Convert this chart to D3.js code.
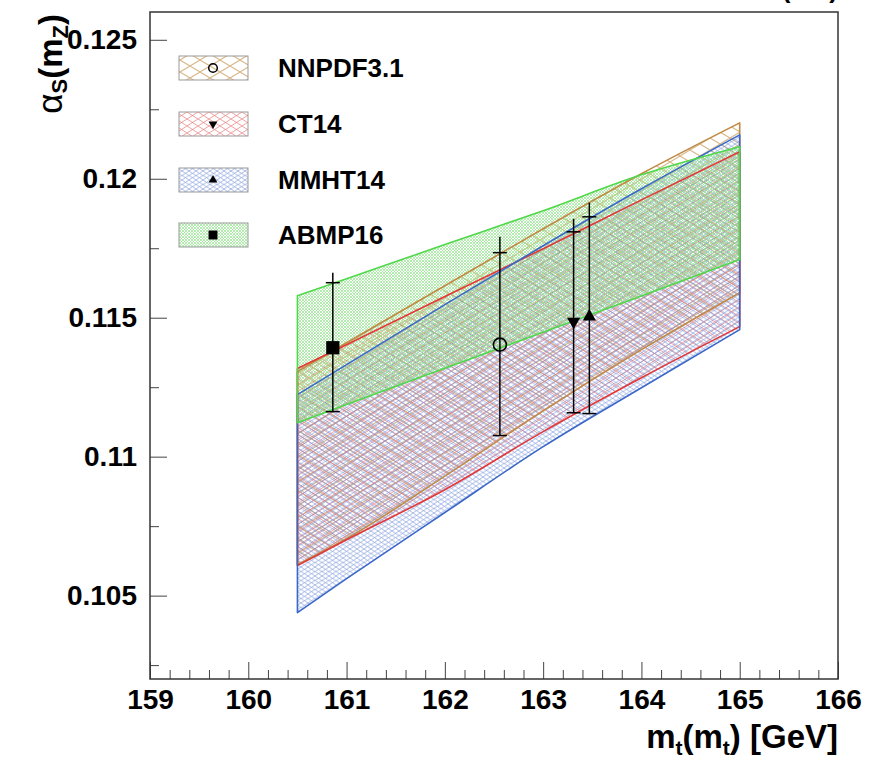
<!DOCTYPE html>
<html>
<head>
<meta charset="utf-8">
<script src="https://cdn.jsdelivr.net/npm/d3@7"></script>
<style>
  body { margin: 0; background: #fff; }
  text { font-family: "Liberation Sans", Arial, sans-serif; font-weight: bold; }
</style>
</head>
<body>
<div id="chart"></div>
<script>
// band grid (top mass) and band edges for each PDF set
const mtGrid = [160.5, 161, 162, 163, 164, 165];
const nnpdfLow  = [0.10612, 0.10705, 0.10930, 0.11165, 0.11385, 0.11590];
const nnpdfHigh = [0.11306, 0.11410, 0.11615, 0.11820, 0.12018, 0.12201];
const ct14Low   = [0.10608, 0.10701, 0.10881, 0.11090, 0.11284, 0.11468];
const ct14High  = [0.11317, 0.11403, 0.11576, 0.11748, 0.11924, 0.12097];
const mmhtLow   = [0.10439, 0.10561, 0.10799, 0.11036, 0.11248, 0.11457];
const mmhtHigh  = [0.11223, 0.11331, 0.11547, 0.11759, 0.11964, 0.12158];
const abmpLow   = [0.11122, 0.11188, 0.11318, 0.11448, 0.11578, 0.11709];
const abmpHigh  = [0.11579, 0.11640, 0.11763, 0.11885, 0.12014, 0.12115];

// extracted points
const pdfNames = ["NNPDF3.1", "CT14", "MMHT14", "ABMP16"];
const pointMt  = [162.56, 163.31, 163.47, 160.86];
const pointAs  = [0.11403, 0.11486, 0.11504, 0.11392];
const errDown  = [0.11076, 0.11158, 0.11155, 0.11162];
const errUp    = [0.11734, 0.11809, 0.11863, 0.11626];
const errTotUp = [0.11791, 0.11856, 0.11914, 0.11662];

const xMajor = [159, 160, 161, 162, 163, 164, 165, 166];
const yMajor = [0.105, 0.11, 0.115, 0.12, 0.125];

const width = 888, height = 765;
const svg = d3.select("#chart").append("svg")
  .attr("width", width).attr("height", height);

const x = d3.scaleLinear().domain([159, 166]).range([150, 838]);
const y = d3.scaleLinear().domain([0.102, 0.126]).range([679, 12]);

// hatch patterns
const styles = [
  {id: "hNNPDF", w: 20, h: 12, hatch: "#d9b98c", line: "#c08a45", sw: 1.1},
  {id: "hCT14",  w: 11, h: 7,  hatch: "#ea7f7f", line: "#e23838", sw: 0.75},
  {id: "hMMHT",  w: 7,  h: 4.5, hatch: "#7694da", line: "#3b68c8", sw: 0.65},
  {id: "hABMP",  w: 3,  h: 3,  hatch: "#92e48c", line: "#4fd84a", sw: 0.7}
];
const defs = svg.append("defs");
styles.forEach(s => {
  const p = defs.append("pattern").attr("id", s.id)
    .attr("patternUnits", "userSpaceOnUse")
    .attr("width", s.w).attr("height", s.h);
  p.append("path")
    .attr("d", `M0,0L${s.w},${s.h}M0,${s.h}L${s.w},0`)
    .attr("stroke", s.hatch).attr("stroke-width", s.sw).attr("fill", "none");
});

const bands = [
  [nnpdfLow, nnpdfHigh],
  [ct14Low, ct14High],
  [mmhtLow, mmhtHigh],
  [abmpLow, abmpHigh]
];

const area = (lo, hi) => d3.area()
  .x((m) => x(m))
  .y0((m, i) => y(lo[i]))
  .y1((m, i) => y(hi[i]))
  .curve(d3.curveMonotoneX)(mtGrid);

const g = svg.append("g");
bands.forEach((b, i) => {
  g.append("path").attr("d", area(b[0], b[1]))
    .attr("fill", `url(#${styles[i].id})`).attr("stroke", "none");
});
bands.forEach((b, i) => {
  g.append("path").attr("d", area(b[0], b[1]))
    .attr("fill", "none").attr("stroke", styles[i].line)
    .attr("stroke-width", 1.6).attr("stroke-linejoin", "round");
});

// markers
const markerFor = (i, big) => {
  if (i === 0) return null;
  const type = i === 3 ? d3.symbolSquare : d3.symbolTriangle;
  const size = i === 3 ? (big ? 175 : 80) : (big ? 75 : 34);
  return d3.symbol().type(type).size(size)();
};

const pts = svg.append("g");
pdfNames.forEach((n, i) => {
  const cx = x(pointMt[i]);
  pts.append("line").attr("x1", cx).attr("x2", cx)
    .attr("y1", y(errTotUp[i])).attr("y2", y(errDown[i]))
    .attr("stroke", "#000").attr("stroke-width", 1.5);
  [errUp[i], errDown[i]].forEach(v => {
    pts.append("line").attr("x1", cx - 7).attr("x2", cx + 7)
      .attr("y1", y(v)).attr("y2", y(v))
      .attr("stroke", "#000").attr("stroke-width", 1.5);
  });
  if (i === 0) {
    pts.append("circle").attr("cx", cx).attr("cy", y(pointAs[i])).attr("r", 6.5)
      .attr("fill", "none").attr("stroke", "#000").attr("stroke-width", 1.6);
  } else {
    pts.append("path").attr("d", markerFor(i, true))
      .attr("transform", `translate(${cx},${y(pointAs[i])})` + (i === 1 ? " rotate(180)" : ""))
      .attr("fill", "#000");
  }
});

// axes
const tickFont = s => s.selectAll("text").attr("font-size", 28).attr("fill", "#000")
  .style("font-family", "'Liberation Sans', Arial, sans-serif").style("font-weight", "bold");

const xAxis = svg.append("g").attr("transform", "translate(0,679)")
  .call(d3.axisBottom(x).tickValues(xMajor).tickSizeInner(-17).tickSizeOuter(0)
    .tickPadding(10).tickFormat(d3.format("d")));
xAxis.select(".domain").remove();
tickFont(xAxis);
xAxis.selectAll("line").attr("stroke", "#444");

const xMinor = d3.range(159, 166.001, 0.2).filter(v => Math.abs(v - Math.round(v)) > 0.01);
const xAxisMinor = svg.append("g").attr("transform", "translate(0,679)")
  .call(d3.axisBottom(x).tickValues(xMinor).tickSizeInner(-9).tickSizeOuter(0).tickFormat(""));
xAxisMinor.select(".domain").remove();
xAxisMinor.selectAll("line").attr("stroke", "#444");

const yAxis = svg.append("g").attr("transform", "translate(150,0)")
  .call(d3.axisLeft(y).tickValues(yMajor).tickSizeInner(-17).tickSizeOuter(0)
    .tickPadding(13).tickFormat(d => d3.format("")(+d.toFixed(3))));
yAxis.select(".domain").remove();
tickFont(yAxis);
yAxis.selectAll("line").attr("stroke", "#444");

const yMinor = [0.1025, 0.1075, 0.1125, 0.1175, 0.1225];
const yAxisMinor = svg.append("g").attr("transform", "translate(150,0)")
  .call(d3.axisLeft(y).tickValues(yMinor).tickSizeInner(-9).tickSizeOuter(0).tickFormat(""));
yAxisMinor.select(".domain").remove();
yAxisMinor.selectAll("line").attr("stroke", "#444");

// frame
svg.append("rect").attr("x", 150).attr("y", 12).attr("width", 688).attr("height", 667)
  .attr("fill", "none").attr("stroke", "#333").attr("stroke-width", 1.5);

// axis titles
const xt = svg.append("text").attr("x", 838).attr("y", 748)
  .attr("text-anchor", "end").attr("font-size", 33).attr("fill", "#000");
xt.append("tspan").text("m");
xt.append("tspan").attr("font-size", 21).attr("dy", 7).text("t");
xt.append("tspan").attr("dy", -7).text("(m");
xt.append("tspan").attr("font-size", 21).attr("dy", 7).text("t");
xt.append("tspan").attr("dy", -7).text(") [GeV]");

const yt = svg.append("text").attr("transform", "translate(62,14) rotate(-90)")
  .attr("text-anchor", "end").attr("font-size", 33).attr("fill", "#000");
yt.append("tspan").style("font-weight", "normal").attr("font-size", 35).text("α");
yt.append("tspan").attr("font-size", 22).attr("dy", 5).text("S");
yt.append("tspan").attr("dy", -5).text("(m");
yt.append("tspan").attr("font-size", 22).attr("dy", 6).text("Z");
yt.append("tspan").attr("dy", -6).text(")");

// header, cut off at the very top as in the original
svg.append("text").attr("x", 838).attr("y", -2).attr("text-anchor", "end")
  .attr("font-size", 26).attr("fill", "#000").text("NNLO (MS)");

// legend
const leg = svg.append("g");
const legY = [68, 124, 180, 235];
pdfNames.forEach((n, i) => {
  leg.append("rect").attr("x", 179).attr("y", legY[i] - 12).attr("width", 69).attr("height", 24)
    .attr("fill", `url(#${styles[i].id})`).attr("stroke", "#999").attr("stroke-width", 1);
  if (i === 0) {
    leg.append("circle").attr("cx", 213).attr("cy", legY[i]).attr("r", 4.3)
      .attr("fill", "none").attr("stroke", "#000").attr("stroke-width", 1.5);
  } else {
    leg.append("path").attr("d", markerFor(i, false))
      .attr("transform", `translate(213,${legY[i]})` + (i === 1 ? " rotate(180)" : ""))
      .attr("fill", "#000");
  }
  leg.append("text").attr("x", 278).attr("y", legY[i]).attr("dy", "0.36em")
    .attr("font-size", 26).attr("fill", "#000").text(n);
});
</script>
</body>
</html>
